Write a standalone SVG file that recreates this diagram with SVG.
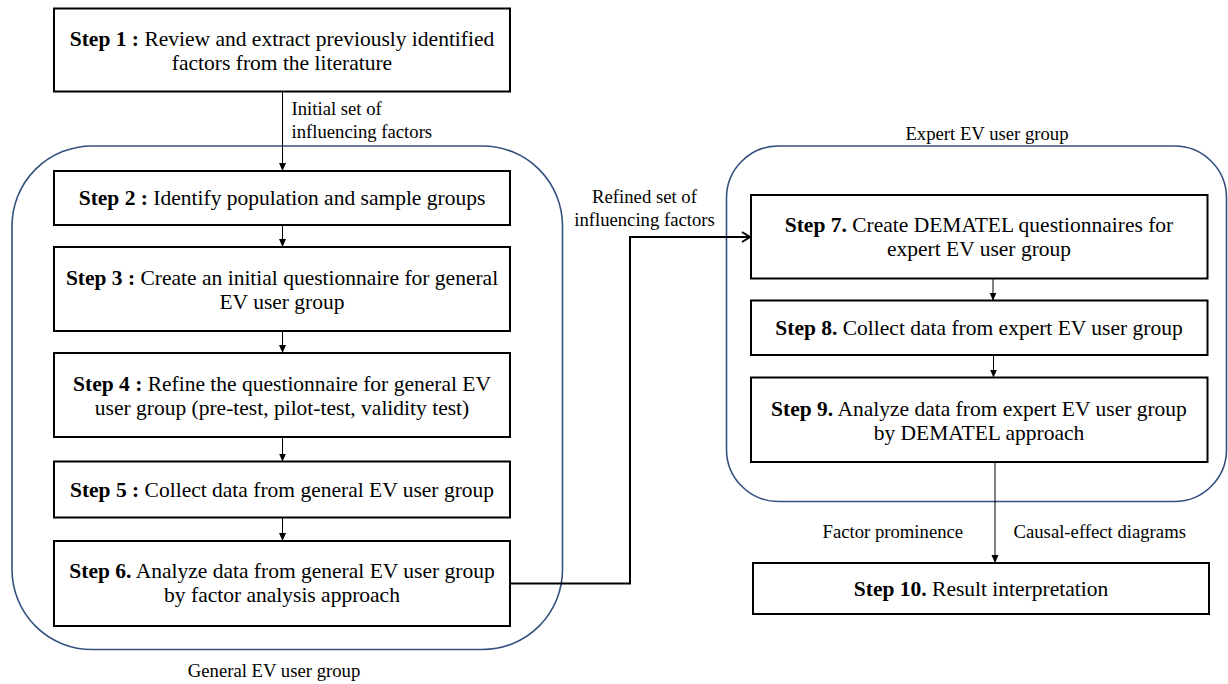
<svg xmlns="http://www.w3.org/2000/svg" width="1228" height="684" viewBox="0 0 1228 684">
  <style>
    .box { fill: #ffffff; stroke: #000000; stroke-width: 2; }
    .group { fill: none; stroke: #34507f; stroke-width: 1.6; }
    .step { font-family: "Liberation Serif", "Times New Roman", serif; font-size: 21.5px; fill: #000000; text-anchor: middle; }
    .step tspan.b { font-weight: bold; }
    .lbl { font-family: "Liberation Serif", "Times New Roman", serif; font-size: 18.7px; fill: #000000; }
    .flow { fill: none; stroke: #000000; stroke-width: 1; }
    .link { fill: none; stroke: #000000; stroke-width: 2; }
  </style>
  <defs>
    <marker id="tri" markerUnits="userSpaceOnUse" viewBox="0 0 8 8" refX="8" refY="4" markerWidth="8" markerHeight="8" orient="auto">
      <path d="M0,0.5 L8,4 L0,7.5 z" fill="#000000"/>
    </marker>
    <marker id="open" markerUnits="userSpaceOnUse" viewBox="0 0 12 12" refX="10" refY="6" markerWidth="12" markerHeight="12" orient="auto">
      <path d="M2,1 L10,6 L2,11" fill="none" stroke="#000000" stroke-width="2"/>
    </marker>
  </defs>

  <rect width="1228" height="684" fill="#ffffff"/>

  <!-- group outlines -->
  <g id="general-group">
    <rect class="group" x="12" y="146" width="550.5" height="503.5" rx="80" ry="80"/>
    <text class="lbl" x="274" y="676.5" text-anchor="middle">General EV user group</text>
  </g>
  <g id="expert-group">
    <rect class="group" x="726.5" y="146" width="500" height="355.5" rx="52" ry="52"/>
    <text class="lbl" x="987" y="140" text-anchor="middle">Expert EV user group</text>
  </g>

  <!-- connectors -->
  <g id="connectors">
    <line class="flow" x1="282.5" y1="92" x2="282.5" y2="171" marker-end="url(#tri)"/>
    <line class="flow" x1="282.5" y1="225" x2="282.5" y2="247" marker-end="url(#tri)"/>
    <line class="flow" x1="282.5" y1="331" x2="282.5" y2="353" marker-end="url(#tri)"/>
    <line class="flow" x1="282.5" y1="437" x2="282.5" y2="461.5" marker-end="url(#tri)"/>
    <line class="flow" x1="282.5" y1="517.5" x2="282.5" y2="541" marker-end="url(#tri)"/>
    <path class="link" d="M510,583.5 H630 V237 H750" marker-end="url(#open)"/>
    <line class="flow" x1="993" y1="278.5" x2="993" y2="300.5" marker-end="url(#tri)"/>
    <line class="flow" x1="993.5" y1="355" x2="993.5" y2="377.5" marker-end="url(#tri)"/>
    <line class="flow" x1="995" y1="462" x2="995" y2="563" marker-end="url(#tri)"/>
    <text class="lbl" x="291.5" y="115">Initial set of</text>
    <text class="lbl" x="291.5" y="138">influencing factors</text>
    <text class="lbl" x="644.5" y="203" text-anchor="middle">Refined set of</text>
    <text class="lbl" x="644.5" y="226" text-anchor="middle">influencing factors</text>
    <text class="lbl" x="822.5" y="537.5">Factor prominence</text>
    <text class="lbl" x="1013.5" y="537.5">Causal-effect diagrams</text>
  </g>

  <!-- left column steps -->
  <g id="step1">
    <rect class="box" x="54" y="8.5" width="456" height="83"/>
    <text class="step" x="282" y="46"><tspan class="b">Step 1 :</tspan> Review and extract previously identified</text>
    <text class="step" x="282" y="70">factors from the literature</text>
  </g>
  <g id="step2">
    <rect class="box" x="54" y="171" width="456" height="54"/>
    <text class="step" x="282" y="204.5"><tspan class="b">Step 2 :</tspan> Identify population and sample groups</text>
  </g>
  <g id="step3">
    <rect class="box" x="54" y="247" width="456" height="84"/>
    <text class="step" x="282" y="285"><tspan class="b">Step 3 :</tspan> Create an initial questionnaire for general</text>
    <text class="step" x="282" y="309">EV user group</text>
  </g>
  <g id="step4">
    <rect class="box" x="54" y="353" width="456" height="84"/>
    <text class="step" x="282" y="391"><tspan class="b">Step 4 :</tspan> Refine the questionnaire for general EV</text>
    <text class="step" x="282" y="415">user group (pre-test, pilot-test, validity test)</text>
  </g>
  <g id="step5">
    <rect class="box" x="54" y="461.5" width="456" height="56"/>
    <text class="step" x="282" y="497"><tspan class="b">Step 5 :</tspan> Collect data from general EV user group</text>
  </g>
  <g id="step6">
    <rect class="box" x="54" y="541" width="456" height="85"/>
    <text class="step" x="282" y="578"><tspan class="b">Step 6.</tspan> Analyze data from general EV user group</text>
    <text class="step" x="282" y="602">by factor analysis approach</text>
  </g>

  <!-- right column steps -->
  <g id="step7">
    <rect class="box" x="751" y="195" width="456.5" height="83.5"/>
    <text class="step" x="979" y="231.5"><tspan class="b">Step 7.</tspan> Create DEMATEL questionnaires for</text>
    <text class="step" x="979" y="255.5">expert EV user group</text>
  </g>
  <g id="step8">
    <rect class="box" x="751" y="300.5" width="456.5" height="54.5"/>
    <text class="step" x="979" y="334.5"><tspan class="b">Step 8.</tspan> Collect data from expert EV user group</text>
  </g>
  <g id="step9">
    <rect class="box" x="751" y="377.5" width="456.5" height="84.5"/>
    <text class="step" x="979" y="415.5"><tspan class="b">Step 9.</tspan> Analyze data from expert EV user group</text>
    <text class="step" x="979" y="439.5">by DEMATEL approach</text>
  </g>
  <g id="step10">
    <rect class="box" x="753" y="563" width="456" height="51"/>
    <text class="step" x="981" y="596"><tspan class="b">Step 10.</tspan> Result interpretation</text>
  </g>
</svg>
